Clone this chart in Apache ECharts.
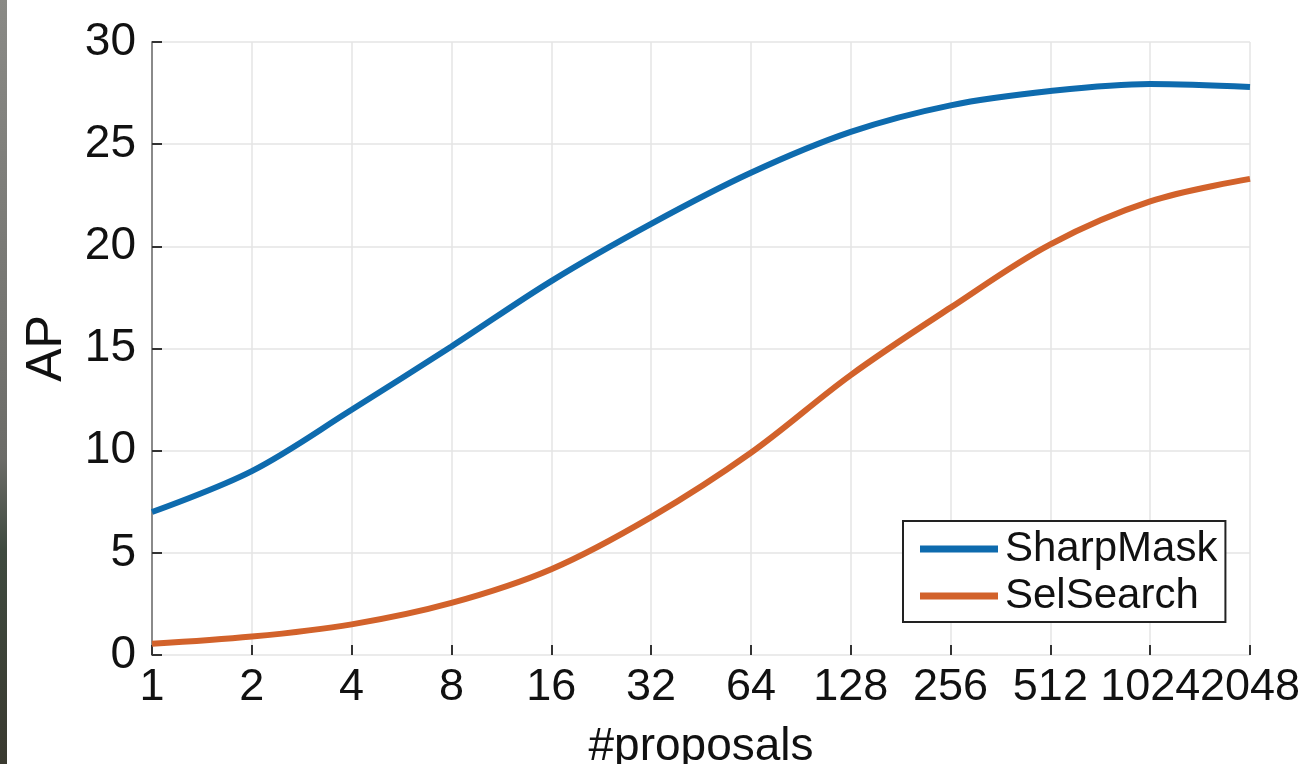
<!DOCTYPE html>
<html>
<head>
<meta charset="utf-8">
<script src="https://cdn.jsdelivr.net/npm/echarts@6/dist/echarts.min.js"></script>
<style>html,body{margin:0;padding:0;background:#fff;}#main{width:1312px;height:764px;}</style>
</head>
<body>
<div id="main"></div>
<script>
var categories = ['1','2','4','8','16','32','64','128','256','512','1024','2048'];
var sharpMask = [7.0, 9.0, 12.0, 15.1, 18.3, 21.1, 23.6, 25.6, 26.9, 27.6, 27.95, 27.8];
var selSearch = [0.55, 0.9, 1.5, 2.55, 4.2, 6.75, 9.9, 13.7, 17.0, 20.1, 22.2, 23.3];
var yTicks = [0, 5, 10, 15, 20, 25, 30];

var font = 'Liberation Sans, Arial, Helvetica, sans-serif';
var chart = echarts.init(document.getElementById('main'));
chart.setOption({
  backgroundColor: '#ffffff',
  animation: false,
  graphic: [{
    type: 'rect', left: 0, top: 0, z: 100,
    shape: {x: 0, y: 0, width: 7, height: 764},
    style: {fill: new echarts.graphic.LinearGradient(0, 0, 0, 1, [
      {offset: 0, color: '#8a8a86'}, {offset: 0.6, color: '#6c6c68'}, {offset: 0.72, color: '#3f4a3f'}, {offset: 1, color: '#3a3a30'}])}
  }],
  grid: {left: 152, right: 62, top: 42, bottom: 109, containLabel: false, outerBoundsMode: 'none'},
  legend: {
    data: [{name: 'SharpMask'}, {name: 'SelSearch'}],
    orient: 'vertical',
    left: 903, top: 521,
    icon: 'rect',
    itemWidth: 78, itemHeight: 7,
    itemGap: 5,
    padding: [7, 8, 5, 17],
    borderColor: '#222', borderWidth: 2,
    backgroundColor: '#fff',
    textStyle: {fontFamily: font, fontSize: 42, color: '#111', padding: [0,0,0,2]}
  },
  xAxis: {
    type: 'category',
    data: categories,
    boundaryGap: false,
    name: '#proposals',
    nameLocation: 'middle',
    nameGap: 69,
    nameTextStyle: {fontFamily: font, fontSize: 46, color: '#111'},
    axisLine: {show: false},
    axisTick: {show: true, inside: true, length: 10, lineStyle: {color: '#333', width: 2}},
    axisLabel: {fontFamily: font, fontSize: 45, color: '#111', margin: 10, interval: 0},
    splitLine: {show: true, lineStyle: {color: '#e4e4e4', width: 1.5}}
  },
  yAxis: {
    type: 'value',
    min: 0, max: 30, interval: 5,
    name: 'AP',
    nameLocation: 'middle',
    nameGap: 80,
    nameRotate: 90,
    nameTextStyle: {fontFamily: font, fontSize: 50, color: '#111'},
    axisLine: {show: true, lineStyle: {color: '#8a8a8a', width: 2}},
    axisTick: {show: true, inside: true, length: 10, lineStyle: {color: '#333', width: 2}},
    axisLabel: {fontFamily: font, fontSize: 46, color: '#111', margin: 16,
      formatter: function (v) { return yTicks.indexOf(v) >= 0 ? String(v) : ''; }},
    splitLine: {show: true, lineStyle: {color: '#e4e4e4', width: 1.5}}
  },
  series: [
    {name: 'SharpMask', type: 'line', data: sharpMask, smooth: 0.35, showSymbol: false,
     color: '#0E6BAE', lineStyle: {width: 6, color: '#0E6BAE'}},
    {name: 'SelSearch', type: 'line', data: selSearch, smooth: 0.35, showSymbol: false,
     color: '#D2622B', lineStyle: {width: 6, color: '#D2622B'}}
  ]
});
</script>
</body>
</html>
